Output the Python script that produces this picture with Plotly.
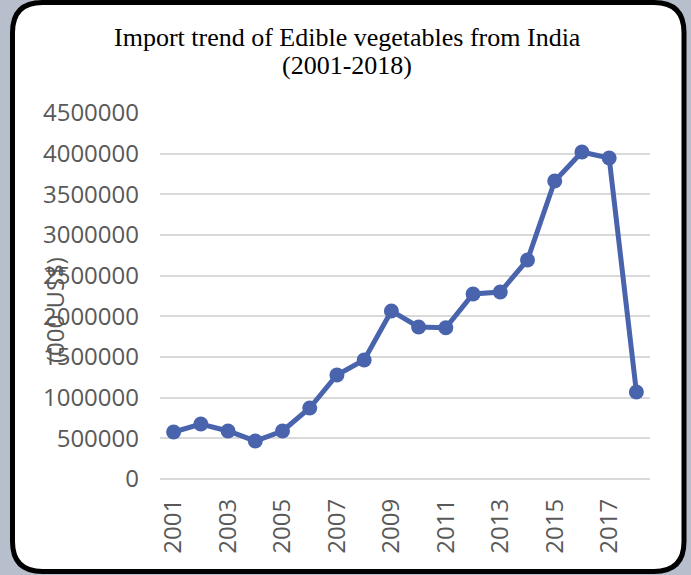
import plotly.graph_objects as go

years = list(range(2001, 2019))
values = [578000, 676000, 590000, 467000, 590000, 873000, 1279000, 1463000, 2066000,
          1869000, 1860000, 2275000, 2299000, 2693000, 3664000, 4020000, 3947000, 1070000]
tick_years = list(range(2001, 2018, 2))
y_ticks = list(range(0, 4500001, 500000))
title_lines = ["Import trend of Edible vegetables from India", "(2001-2018)"]

W, H = 691, 575
L, R, T, B = 160, 41, 113, 96
pw, ph = W - L - R, H - T - B

def px(x):
    return (x - L) / pw

def py(y):
    return (H - B - y) / ph

# rounded frame
x0, x1, y0, y1, r = 12.5, 684, 2.5, 571.5, 30
path = (f"M {px(x0+r)} {py(y0)} L {px(x1-r)} {py(y0)} Q {px(x1)} {py(y0)} {px(x1)} {py(y0+r)} "
        f"L {px(x1)} {py(y1-r)} Q {px(x1)} {py(y1)} {px(x1-r)} {py(y1)} "
        f"L {px(x0+r)} {py(y1)} Q {px(x0)} {py(y1)} {px(x0)} {py(y1-r)} "
        f"L {px(x0)} {py(y0+r)} Q {px(x0)} {py(y0)} {px(x0+r)} {py(y0)} Z")

fig = go.Figure()
fig.add_trace(go.Scatter(
    x=years, y=values, mode="lines+markers",
    line=dict(color="#4964ad", width=5),
    marker=dict(color="#4964ad", size=15),
    hoverinfo="x+y", showlegend=False,
))

tick_font = dict(family="Open Sans", size=24, color="#595959")
title_font = dict(family="Liberation Serif", size=26, color="#000000")

annotations = [dict(text="(000 US$)", xref="paper", yref="paper",
                    x=px(54), y=py(310), xanchor="center", yanchor="middle",
                    textangle=-90, showarrow=False, font=tick_font)]
for line, cy in zip(title_lines, [37, 65]):
    annotations.append(dict(text=line, xref="paper", yref="paper",
                            x=px(347), y=py(cy), xanchor="center", yanchor="middle",
                            showarrow=False, font=title_font, borderpad=0))

fig.update_layout(
    width=W, height=H,
    margin=dict(l=L, r=R, t=T, b=B),
    paper_bgcolor="#b8bfcc",
    plot_bgcolor="rgba(0,0,0,0)",
    shapes=[dict(type="path", path=path, xref="paper", yref="paper",
                 fillcolor="#ffffff", line=dict(color="#000000", width=5), layer="below")],
    annotations=annotations,
    xaxis=dict(
        range=[2000.5, 2018.5], tickvals=tick_years, ticktext=[str(t) for t in tick_years],
        tickangle=-90, tickfont=tick_font, showgrid=False, zeroline=False,
        showline=False, ticks="", ticklabelstandoff=14,
    ),
    yaxis=dict(
        range=[0, 4500000], tickvals=y_ticks, ticktext=[str(t) for t in y_ticks],
        tickfont=tick_font, showgrid=True, gridcolor="#d9d9d9", gridwidth=2,
        zeroline=True, zerolinecolor="#d9d9d9", zerolinewidth=2,
        showline=False, ticks="", ticklabelstandoff=20,
    ),
)

fig.write_html("out.html", config={"displayModeBar": False},
               post_script="document.body.style.margin='0';document.body.style.overflow='hidden';")
